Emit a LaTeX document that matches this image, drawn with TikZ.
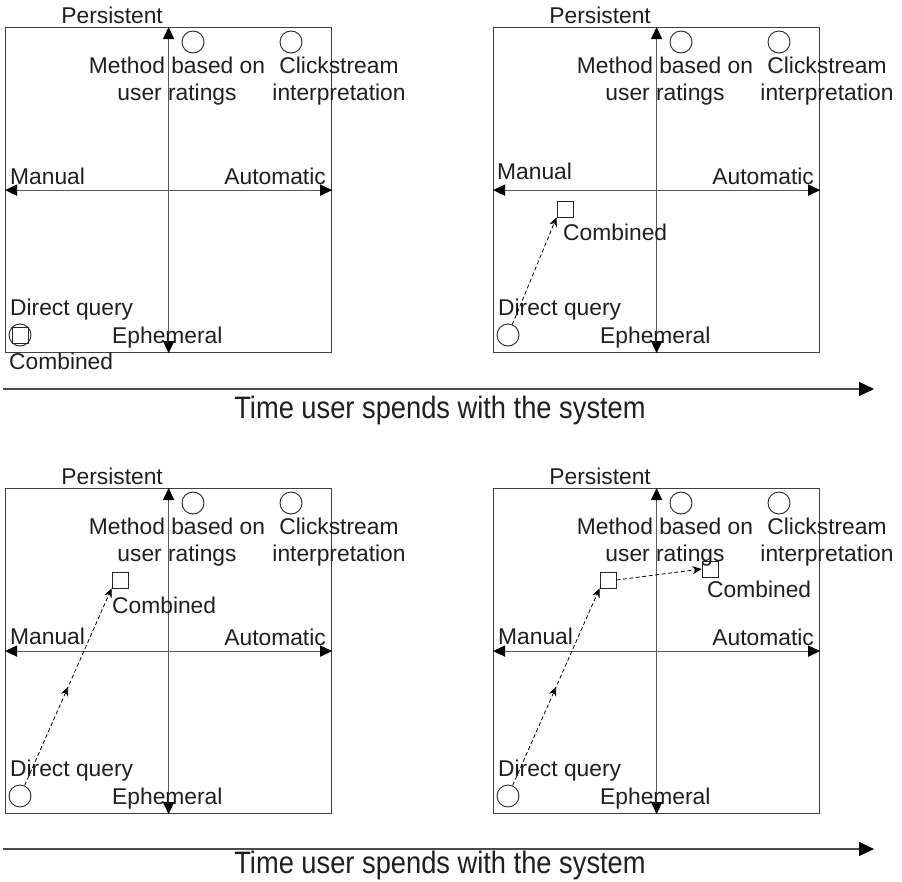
\documentclass[tikz,border=0pt]{standalone}
\usepackage{fontspec}
\setmainfont{Liberation Sans}
\newfontfamily\narrowsans[FakeStretch=0.88]{Liberation Sans}
\usetikzlibrary{arrows.meta,decorations.markings}
\tikzset{
  panelbox/.style={draw=black!75,line width=1.2pt,inner sep=0pt,minimum width=326pt,minimum height=325pt},
  axisline/.style={draw=black!65,line width=1.2pt,{Triangle[length=12pt,width=11pt,fill=black,color=black]}-{Triangle[length=12pt,width=11pt,fill=black,color=black]}},
  circ/.style={draw=black!85,line width=0.9pt,circle,minimum size=22pt,inner sep=0pt},
  sq/.style={draw=black!85,line width=0.9pt,rectangle,minimum size=16pt,inner sep=0pt},
  lbl/.style={inner sep=0pt,text=black!88,font=\fontsize{22.8}{27}\selectfont},
  flow/.style={draw=black,line width=0.8pt,dash pattern=on 4pt off 2.5pt,-{Stealth[length=9pt,width=8pt]}},
  midarrow/.style={decoration={markings,mark=at position 0.5 with {\arrow{Stealth[length=9pt,width=8pt]}}},postaction=decorate},
  timeline/.style={draw=black!70,line width=1.2pt,-{Triangle[length=15pt,width=14pt,fill=black,color=black]}},
  timelbl/.style={inner sep=0pt,text=black!88,font=\narrowsans\fontsize{31}{36}\selectfont},
}
\newcommand\quadpanel[3]{%
\begin{scope}[shift={(#2,#3)}]
  \node[panelbox,anchor=north west] (#1box) at (0,0) {};
  \draw[axisline] (#1box.south) -- (#1box.north);
  \draw[axisline] (#1box.west) -- (#1box.east);
  \node[lbl,anchor=base east] (#1pers) at (158,-4) {Persistent};
  \node[circ] (#1mc) at (188,15) {};
  \node[circ] (#1cc) at (286,15) {};
  \node[lbl,anchor=base,align=center] (#1mt) at (172,73) {Method based on\\user ratings};
  \node[lbl,anchor=base,align=center] (#1ct) at (334,73) {Clickstream\\interpretation};
  \node[lbl,anchor=base east] (#1auto) at (321,157) {Automatic};
  \node[lbl,anchor=base west] (#1dqt) at (5,288) {Direct query};
  \node[circ] (#1dq) at (15,308) {};
  \node[lbl,anchor=base west] (#1eph) at (107,316) {Ephemeral};
\end{scope}}
\begin{document}
\begin{tikzpicture}[x=1pt,y=-1pt]
\useasboundingbox[fill=white] (0,0) rectangle (902,881);
% top-left
\quadpanel{TL}{5}{27}
\node[lbl,anchor=base west] (TLman) at (10,184) {Manual};
\node[sq] (TLc) at (TLdq.center) {};
\node[lbl,anchor=base west] (TLct) at (9,369) {Combined};
% top-right
\quadpanel{TR}{493}{27}
\node[lbl,anchor=base west] (TRman) at (497,179) {Manual};
\node[sq] (TRc) at (565,209) {};
\node[lbl,anchor=base west] (TRct) at (563,240) {Combined};
\draw[flow] (TRdq) -- (TRc.south west);
% time arrow 1
\coordinate (t1s) at (3,389);
\coordinate (t1e) at (874,389);
\draw[timeline] (t1s) -- (t1e);
\node[timelbl,anchor=base] (t1t) at (440,418) {Time user spends with the system};
% bottom-left
\quadpanel{BL}{5}{488}
\node[lbl,anchor=base west] (BLman) at (10,644) {Manual};
\node[sq] (BLc) at (120,580) {};
\node[lbl,anchor=base west] (BLct) at (112,613) {Combined};
\draw[flow,midarrow] (BLdq) -- (BLc.south west);
% bottom-right
\quadpanel{BR}{493}{488}
\node[lbl,anchor=base west] (BRman) at (498,644) {Manual};
\node[sq] (BRc1) at (608,580) {};
\node[sq] (BRc2) at (710,569) {};
\node[lbl,anchor=base west] (BRct) at (707,597) {Combined};
\draw[flow,midarrow] (BRdq) -- (BRc1.south west);
\draw[flow] (BRc1.east) -- (BRc2.west);
% time arrow 2
\coordinate (t2s) at (3,849);
\coordinate (t2e) at (874,849);
\draw[timeline] (t2s) -- (t2e);
\node[timelbl,anchor=base] (t2t) at (440,873) {Time user spends with the system};
\end{tikzpicture}
\end{document}
